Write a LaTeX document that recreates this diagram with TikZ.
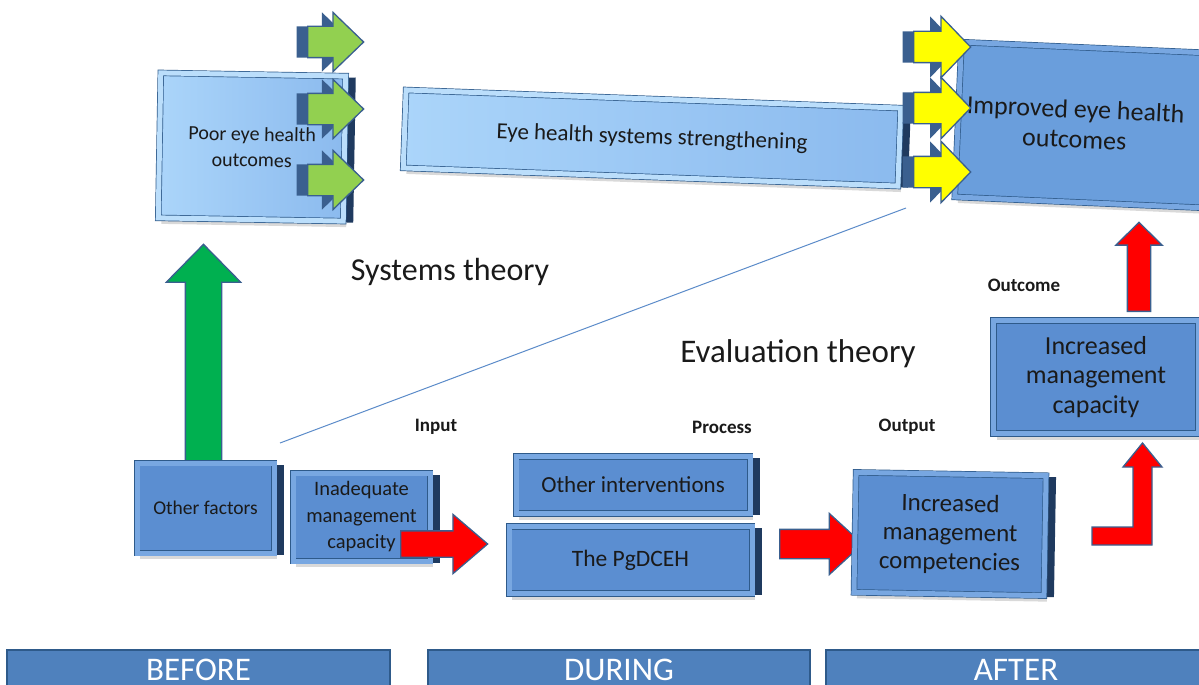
\documentclass[tikz,border=0pt]{standalone}
\usepackage{fontspec}
\setmainfont{Carlito}
\usetikzlibrary{shapes.arrows,shadows}

\definecolor{edgeblue}{HTML}{2E5A8A}
\definecolor{darkside}{HTML}{1F3A5F}
\definecolor{midfill}{HTML}{5B8ED1}
\definecolor{midband}{HTML}{78A7E1}
\definecolor{lightL}{HTML}{ABD5FA}
\definecolor{lightR}{HTML}{8BBAEE}
\definecolor{lightband}{HTML}{BBDEFB}
\definecolor{impfill}{HTML}{6A9EDC}
\definecolor{barblue}{HTML}{4F81BD}
\definecolor{arrowedge}{HTML}{3A5F8F}
\definecolor{greenA}{HTML}{92D050}
\definecolor{greenB}{HTML}{00B050}
\definecolor{yellowA}{HTML}{FFFF00}
\definecolor{redA}{HTML}{FF0000}
\definecolor{linkblue}{HTML}{5B8BC9}
\definecolor{ink}{HTML}{1A1A1A}

\newcommand\setfs[2]{\fontsize{#1}{#2}\selectfont}

\tikzset{
  softshade/.style={general shadow={shadow xshift=3pt, shadow yshift=-6pt, fill=black, opacity=0.15}},
  sideshade/.style={general shadow={shadow xshift=10pt, shadow yshift=-1.5pt, fill=darkside}},
  bevelbox/.style={draw=edgeblue, line width=0.7pt, double=midband, double distance=5pt,
    fill=midfill, inner sep=2pt, align=center, text=ink},
  lightbox/.style={bevelbox, double=lightband, left color=lightL, right color=lightR},
  blockarrow/.style={single arrow, draw=arrowedge, line width=1.3pt, inner xsep=0pt,
    minimum width=0pt, anchor=tail},
  arrowshade/.style={general shadow={shadow xshift=-11pt, fill=arrowedge}},
  stagebar/.style={draw=edgeblue, line width=1.2pt, fill=barblue, text=white,
    minimum width=#1, minimum height=40pt, inner sep=0pt, font=\setfs{33}{36}},
  theory/.style={text=ink},
  stagelabel/.style={text=ink, font=\bfseries\setfs{19}{22}},
}

\begin{document}
\begin{tikzpicture}[x=1pt,y=-1pt]
\useasboundingbox (0,0) rectangle (1199,685);

% diagonal divider between the two theories
\coordinate (divA) at (280,443);
\coordinate (divB) at (906,208);
\draw[linkblue, line width=1pt] (divA) -- (divB);

% ---- systems view (top row) ----
\node[lightbox, softshade, sideshade, rotate=-1, minimum width=185pt, minimum height=145pt,
      font=\setfs{20}{26}] (poor) at (252,147) {Poor eye health\\outcomes};
\foreach \n/\yy in {g1/42, g2/109, g3/180}
  \node[blockarrow, arrowshade, fill=greenA, inner ysep=15pt, single arrow head extend=14pt,
        single arrow tip angle=88, minimum height=56pt] (\n) at (307,\yy) {};

\node[lightbox, softshade, sideshade, rotate=-2.1, minimum width=495pt, minimum height=78pt,
      font=\setfs{23}{26}] (ehss) at (652,138) {Eye health systems strengthening};

\node[bevelbox, fill=impfill, softshade, rotate=-2.5, minimum width=250pt, minimum height=155pt]
  (improved) at (1083,125) {};
\node[rotate=-2.5, align=center, text=ink, font=\setfs{26}{30}]
  (improvedtext) at (1075,124) {Improved eye health\\outcomes};
\foreach \n/\yy in {y1/47, y2/108, y3/172}
  \node[blockarrow, arrowshade, fill=yellowA, inner ysep=15pt, single arrow head extend=15pt,
        single arrow tip angle=92, minimum height=57pt] (\n) at (913,\yy) {};

% ---- theory captions ----
\node[theory, font=\setfs{32}{36}] (systh) at (450,272) {Systems theory};
\node[theory, font=\setfs{33}{36}] (evalth) at (798,354) {Evaluation theory};
\node[stagelabel] (lin)  at (436,427) {Input};
\node[stagelabel] (lpro) at (722,427) {Process};
\node[stagelabel] (lout) at (907,427) {Output};
\node[stagelabel] (loc)  at (1024,285) {Outcome};

% ---- evaluation chain (bottom row) ----
\node[blockarrow, fill=greenB, rotate=90, inner ysep=17.5pt, single arrow head extend=19pt,
      single arrow tip angle=89, minimum height=223pt] (gup) at (203.5,468) {};

\node[bevelbox, softshade, sideshade, minimum width=137pt, minimum height=90pt,
      font=\setfs{19.5}{24}] (other) at (205.5,508) {Other factors};
\node[bevelbox, softshade, sideshade, minimum width=137pt, minimum height=88pt,
      font=\setfs{20.5}{26.5}] (inadeq) at (361.5,517) {Inadequate\\management\\capacity};
\node[blockarrow, fill=redA, inner ysep=12.5pt, single arrow head extend=16.5pt,
      single arrow tip angle=81, minimum height=87pt] (r1) at (400,544) {};

\node[bevelbox, softshade, sideshade, minimum width=234pt, minimum height=57pt,
      font=\setfs{23}{26}] (otherint) at (633,485) {Other interventions};
\node[bevelbox, softshade, sideshade, minimum width=243pt, minimum height=67pt,
      font=\setfs{23.5}{26}] (pgd) at (630.5,560) {The PgDCEH};
\node[blockarrow, fill=redA, inner ysep=14pt, single arrow head extend=16pt,
      single arrow tip angle=85, minimum height=83pt] (r2) at (779,544) {};

\node[bevelbox, softshade, sideshade, rotate=-1, minimum width=190pt, minimum height=120pt,
      font=\setfs{25}{29}] (compet) at (950,534) {Increased\\management\\competencies};

% bent arrow rising towards the outcome box
\draw[draw=arrowedge, line width=1.3pt, fill=redA, line join=miter]
  (1092,527) -- (1133,527) -- (1133,467) -- (1123,467) -- (1142.5,443)
  -- (1162,467) -- (1152,467) -- (1152,545) -- (1092,545) -- cycle;

\node[bevelbox, softshade, minimum width=205pt, minimum height=113pt,
      font=\setfs{26}{29.5}] (capacity) at (1096,377) {Increased\\management\\capacity};
\node[blockarrow, fill=redA, rotate=90, inner ysep=11pt, single arrow head extend=11.5pt,
      single arrow tip angle=91, minimum height=89pt] (rup) at (1139,312) {};

% ---- time line ----
\node[stagebar=383pt] (before) at (198.5,670) {BEFORE};
\node[stagebar=382pt] (during) at (619,670) {DURING};
\node[stagebar=380pt] (after)  at (1016,670) {AFTER};
\end{tikzpicture}
\end{document}
